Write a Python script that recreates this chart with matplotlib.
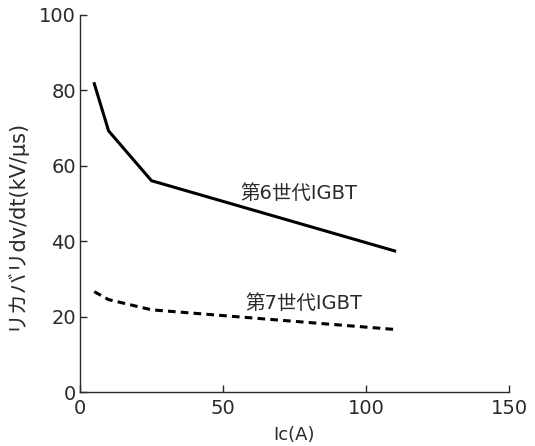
import matplotlib.pyplot as plt

plt.rcParams['font.family'] = ['DejaVu Sans', 'Noto Sans CJK JP']

# Ic (A) vs recovery dv/dt (kV/us)
ic_6th = [5, 10, 25, 110]
dvdt_6th = [81.8, 69.3, 56.1, 37.5]
ic_7th = [5, 10, 25, 110]
dvdt_7th = [26.7, 24.6, 21.9, 16.7]

x_ticks = [0, 50, 100, 150]
y_ticks = [0, 20, 40, 60, 80, 100]

TEXT = "#2a2a2a"

fig = plt.figure(figsize=(5.35, 4.46), dpi=100)
ax = fig.add_axes([0.1495, 0.12, 0.8019, 0.8464])

ax.plot(ic_6th, dvdt_6th, color="black", linewidth=2.2, solid_joinstyle="miter")
ax.plot(ic_7th, dvdt_7th, color="black", linewidth=2.2, dashes=(2.5, 1.7))

ax.text(56, 52.8, "第6世代IGBT", fontsize=14, va="center", ha="left", color=TEXT)
ax.text(57.7, 23.7, "第7世代IGBT", fontsize=14, va="center", ha="left", color=TEXT)

ax.set_xlim(0, 150)
ax.set_ylim(0, 100)
ax.set_xticks(x_ticks)
ax.set_yticks(y_ticks)
ax.tick_params(direction="in", length=5, width=1, labelsize=14, colors=TEXT)
ax.tick_params(axis="x", pad=5)
ax.tick_params(axis="y", pad=3)
for s in ["top", "right"]:
    ax.spines[s].set_visible(False)
for s in ["left", "bottom"]:
    ax.spines[s].set_linewidth(1.0)
    ax.spines[s].set_color(TEXT)

ax.set_xlabel("Ic(A)", fontsize=13, color=TEXT)
ax.set_ylabel("リカバリdv/dt(kV/μs)", fontsize=15, color=TEXT)
ax.yaxis.set_label_coords(-0.128, 0.446)
ax.xaxis.set_label_coords(0.5, -0.088)

fig.savefig("out.png", dpi=100)
